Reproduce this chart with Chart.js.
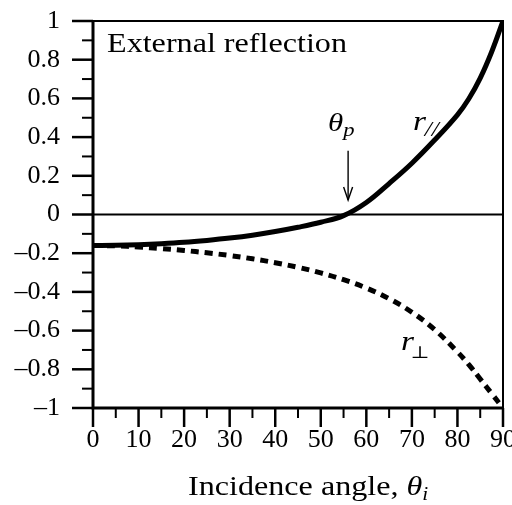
<!DOCTYPE html>
<html>
<head>
<meta charset="utf-8">
<script src="https://cdn.jsdelivr.net/npm/chart.js@4.4.1/dist/chart.umd.min.js"></script>
<style>
  html, body { margin: 0; padding: 0; background: #fff; }
  #wrap { width: 512px; height: 505px; }
</style>
</head>
<body>
<div id="wrap"><canvas id="c" width="512" height="505"></canvas></div>
<script>
// Incidence angle in degrees
const angles = [0, 5, 10, 15, 20, 25, 30, 35, 40, 45, 50, 55, 60, 65, 70, 75, 80, 82.5, 85, 87.5, 90];
// Reflection coefficient, parallel polarisation
const rParallel = [-0.16, -0.159, -0.156, -0.151, -0.144, -0.134, -0.122, -0.107, -0.088, -0.066, -0.04, -0.006, 0.062, 0.16, 0.265, 0.385, 0.515, 0.598, 0.705, 0.84, 1.0];
// Reflection coefficient, perpendicular polarisation
const rPerp = [-0.16, -0.162, -0.168, -0.176, -0.186, -0.198, -0.212, -0.229, -0.249, -0.273, -0.302, -0.337, -0.38, -0.435, -0.505, -0.595, -0.71, -0.776, -0.85, -0.925, -1.0];
// Axis tick labels
const xTicks = [0, 10, 20, 30, 40, 50, 60, 70, 80, 90];
const yTicks = [-1, -0.8, -0.6, -0.4, -0.2, 0, 0.2, 0.4, 0.6, 0.8, 1];
// Brewster angle marker
const brewsterAngle = 56;

const SERIF = '"Liberation Serif", "Times New Roman", serif';
const STRETCH = 1.19;

function fmtY(v) {
  if (v === 0) return '0';
  const s = String(Math.abs(v));
  return (v < 0 ? '\u2013' : '') + s;
}

// draws a run of text pieces, each with its own font and baseline shift
function drawRun(ctx, x, y, pieces) {
  ctx.save();
  ctx.translate(x, y);
  ctx.scale(STRETCH, 1);
  let cx = 0;
  for (const p of pieces) {
    ctx.font = p.font;
    ctx.fillText(p.text, cx, p.dy || 0);
    cx += ctx.measureText(p.text).width + (p.gap || 0);
  }
  ctx.restore();
}

const framePlugin = {
  id: 'frame',
  afterDatasetsDraw(chart) {
    const ctx = chart.ctx;
    const { left, right, top, bottom } = chart.chartArea;
    const xs = chart.scales.x, ys = chart.scales.y;
    ctx.save();
    ctx.strokeStyle = '#000';
    ctx.lineCap = 'butt';

    // zero line
    const y0 = ys.getPixelForValue(0);
    ctx.lineWidth = 2;
    ctx.beginPath(); ctx.moveTo(left, y0); ctx.lineTo(right, y0); ctx.stroke();

    // top and right borders
    ctx.lineWidth = 2;
    ctx.beginPath();
    ctx.moveTo(left, top); ctx.lineTo(right, top); ctx.lineTo(right, bottom);
    ctx.stroke();
    // left and bottom axes
    ctx.lineWidth = 3;
    ctx.beginPath();
    ctx.moveTo(left, top - 1); ctx.lineTo(left, bottom); ctx.lineTo(right + 1, bottom);
    ctx.stroke();

    // y ticks: major every 0.2, minor every 0.1
    for (let i = -10; i <= 10; i++) {
      const py = ys.getPixelForValue(i / 10);
      const major = i % 2 === 0;
      ctx.lineWidth = major ? 2.5 : 2;
      ctx.beginPath();
      ctx.moveTo(left - (major ? 21 : 11), py); ctx.lineTo(left, py);
      ctx.stroke();
    }
    // x ticks: major every 10, minor every 5
    for (let i = 0; i <= 18; i++) {
      const px = xs.getPixelForValue(i * 5);
      const major = i % 2 === 0;
      ctx.lineWidth = major ? 2.5 : 2;
      ctx.beginPath();
      ctx.moveTo(px, bottom); ctx.lineTo(px, bottom + (major ? 19 : 10));
      ctx.stroke();
    }

    // Brewster angle arrow
    const ax = xs.getPixelForValue(brewsterAngle);
    const ay1 = ys.getPixelForValue(0.33), ay2 = ys.getPixelForValue(0.075);
    ctx.lineWidth = 1.4;
    ctx.beginPath(); ctx.moveTo(ax, ay1); ctx.lineTo(ax, ay2); ctx.stroke();
    ctx.beginPath();
    ctx.moveTo(ax - 4.5, ay2 - 13); ctx.lineTo(ax, ay2); ctx.lineTo(ax + 4.5, ay2 - 13);
    ctx.stroke();

    // text annotations
    ctx.fillStyle = '#000';
    ctx.textBaseline = 'alphabetic';
    drawRun(ctx, 107, 52, [{ text: 'External reflection', font: '27px ' + SERIF }]);
    drawRun(ctx, ax - 20, 131, [
      { text: '\u03B8', font: 'italic 26px ' + SERIF },
      { text: 'p', font: 'italic 19px ' + SERIF, dy: 5 }
    ]);
    drawRun(ctx, 413, 130, [
      { text: 'r', font: 'italic 28px ' + SERIF, gap: -1 },
      { text: '//', font: 'italic 21px ' + SERIF, dy: 6 }
    ]);
    drawRun(ctx, 401, 350, [
      { text: 'r', font: 'italic 28px ' + SERIF, gap: -3 },
      { text: '\u22A5', font: '17px "DejaVu Serif", serif', dy: 8 }
    ]);
    drawRun(ctx, 188, 495, [
      { text: 'Incidence angle, ', font: '27px ' + SERIF },
      { text: '\u03B8', font: 'italic 27px ' + SERIF },
      { text: 'i', font: 'italic 18px ' + SERIF, dy: 5 }
    ]);
    ctx.restore();
  }
};

new Chart(document.getElementById('c'), {
  type: 'line',
  data: {
    datasets: [
      {
        label: 'r parallel',
        data: angles.map((a, i) => ({ x: a, y: rParallel[i] })),
        borderColor: '#000',
        borderWidth: 5,
        pointRadius: 0,
        tension: 0.4,
        fill: false
      },
      {
        label: 'r perpendicular',
        data: angles.map((a, i) => ({ x: a, y: rPerp[i] })),
        borderColor: '#000',
        borderWidth: 5,
        borderDash: [8, 6],
        pointRadius: 0,
        tension: 0.4,
        fill: false
      }
    ]
  },
  options: {
    responsive: false,
    animation: false,
    layout: { padding: { top: 21, right: 9, left: 0, bottom: 0 } },
    plugins: { legend: { display: false }, tooltip: { enabled: false } },
    scales: {
      x: {
        type: 'linear',
        min: 0, max: 90,
        border: { display: false },
        grid: { display: false, drawTicks: false, tickLength: 0 },
        afterBuildTicks: s => { s.ticks = xTicks.map(v => ({ value: v })); },
        afterFit: s => { s.height = 97; s.paddingLeft = 0; s.paddingRight = 0; },
        ticks: {
          color: '#000',
          font: { family: SERIF, size: 26 },
          padding: 17,
          maxRotation: 0,
          autoSkip: false,
          callback: v => String(v)
        }
      },
      y: {
        type: 'linear',
        min: -1, max: 1,
        border: { display: false },
        grid: { display: false, drawTicks: false, tickLength: 0 },
        afterBuildTicks: s => { s.ticks = yTicks.map(v => ({ value: v })); },
        afterFit: s => { s.width = 93; s.paddingTop = 0; s.paddingBottom = 0; },
        ticks: {
          color: '#000',
          font: { family: SERIF, size: 26 },
          padding: 33,
          autoSkip: false,
          callback: v => fmtY(Math.round(v * 10) / 10)
        }
      }
    }
  },
  plugins: [framePlugin]
});
</script>
</body>
</html>
